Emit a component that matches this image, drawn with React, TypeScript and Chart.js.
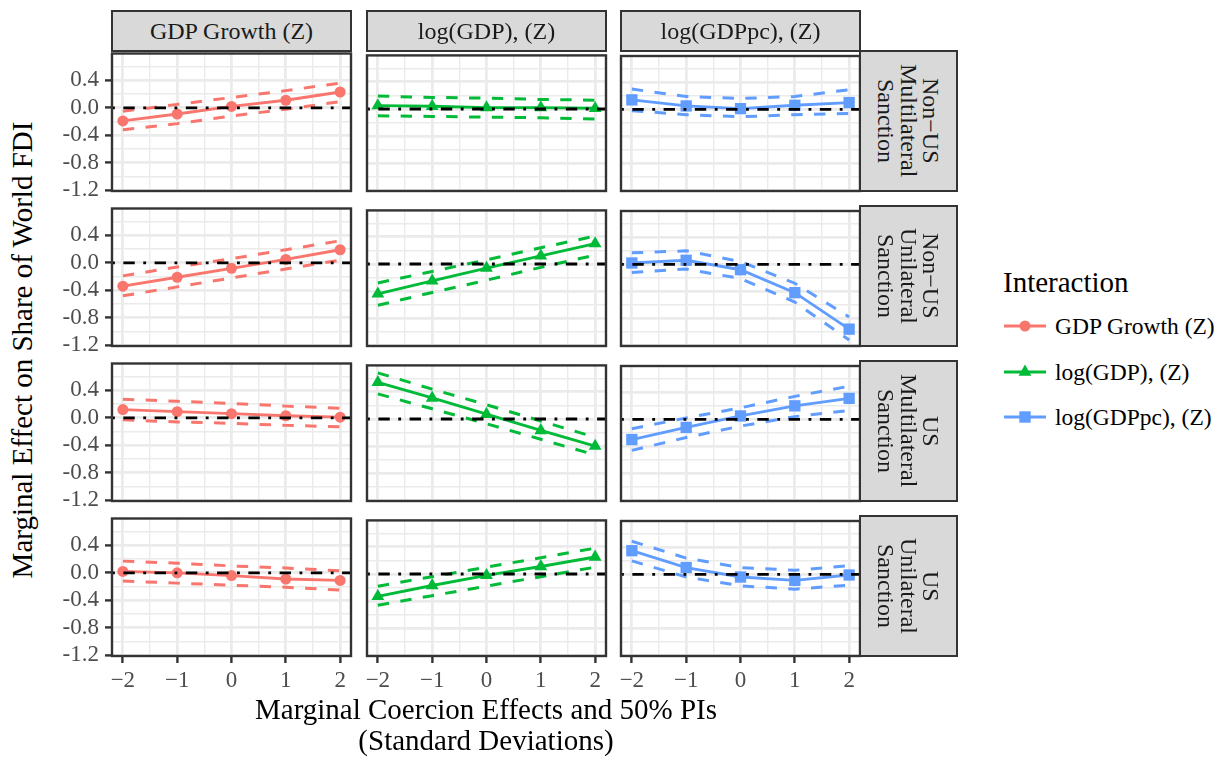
import React, { useEffect, useRef } from 'react';
import { Chart, registerables } from 'chart.js';

Chart.register(...registerables);

// ---------- data ----------
const X_VALUES = [-2, -1, 0, 1, 2];
const ZERO_LINE_X = [-2.2, 2.2];
const ZERO_LINE_Y = [0, 0];

const INTERACTIONS = ['GDP Growth (Z)', 'log(GDP), (Z)', 'log(GDPpc), (Z)'];
const SANCTIONS = [
  ['Non−US', 'Multilateral', 'Sanction'],
  ['Non−US', 'Unilateral', 'Sanction'],
  ['US', 'Multilateral', 'Sanction'],
  ['US', 'Unilateral', 'Sanction'],
];

// [GDP Growth, log(GDP), log(GDPpc)] for each sanction type
const EST_NONUS_MULTI = [
  [-0.19, -0.09, 0.02, 0.11, 0.23],
  [0.05, 0.04, 0.02, 0.02, 0.01],
  [0.14, 0.05, 0.01, 0.06, 0.10],
];
const LO_NONUS_MULTI = [
  [-0.32, -0.23, -0.12, -0.02, 0.09],
  [-0.10, -0.11, -0.12, -0.13, -0.15],
  [-0.02, -0.08, -0.11, -0.08, -0.06],
];
const HI_NONUS_MULTI = [
  [-0.05, 0.05, 0.15, 0.25, 0.36],
  [0.19, 0.17, 0.16, 0.14, 0.13],
  [0.30, 0.19, 0.16, 0.19, 0.29],
];

const EST_NONUS_UNI = [
  [-0.34, -0.21, -0.08, 0.05, 0.19],
  [-0.44, -0.25, -0.06, 0.12, 0.30],
  [0.02, 0.06, -0.08, -0.42, -0.96],
];
const LO_NONUS_UNI = [
  [-0.48, -0.35, -0.22, -0.09, 0.04],
  [-0.61, -0.42, -0.24, -0.05, 0.13],
  [-0.12, -0.07, -0.21, -0.56, -1.12],
];
const HI_NONUS_UNI = [
  [-0.19, -0.06, 0.06, 0.19, 0.32],
  [-0.28, -0.11, 0.06, 0.24, 0.41],
  [0.17, 0.20, 0.04, -0.28, -0.78],
];

const EST_US_MULTI = [
  [0.12, 0.09, 0.06, 0.03, 0.01],
  [0.54, 0.31, 0.07, -0.17, -0.40],
  [-0.30, -0.12, 0.05, 0.20, 0.31],
];
const LO_US_MULTI = [
  [-0.03, -0.06, -0.08, -0.11, -0.13],
  [0.37, 0.15, -0.07, -0.30, -0.53],
  [-0.46, -0.27, -0.10, 0.04, 0.13],
];
const HI_US_MULTI = [
  [0.27, 0.24, 0.21, 0.17, 0.14],
  [0.68, 0.44, 0.21, -0.03, -0.27],
  [-0.14, 0.02, 0.17, 0.34, 0.49],
];

const EST_US_UNI = [
  [0.02, 0.00, -0.04, -0.09, -0.11],
  [-0.33, -0.17, -0.02, 0.11, 0.25],
  [0.35, 0.10, -0.04, -0.09, -0.01],
];
const LO_US_UNI = [
  [-0.12, -0.15, -0.18, -0.21, -0.25],
  [-0.46, -0.32, -0.18, -0.04, 0.10],
  [0.20, -0.04, -0.17, -0.22, -0.16],
];
const HI_US_UNI = [
  [0.17, 0.14, 0.10, 0.07, 0.03],
  [-0.18, -0.04, 0.10, 0.24, 0.38],
  [0.49, 0.24, 0.10, 0.06, 0.13],
];

const EST = [EST_NONUS_MULTI, EST_NONUS_UNI, EST_US_MULTI, EST_US_UNI];
const LO = [LO_NONUS_MULTI, LO_NONUS_UNI, LO_US_MULTI, LO_US_UNI];
const HI = [HI_NONUS_MULTI, HI_NONUS_UNI, HI_US_MULTI, HI_US_UNI];

const X_MAJOR_TICKS = [-2, -1, 0, 1, 2];
const X_TICK_LABELS = ['−2', '−1', '0', '1', '2'];
const X_MINOR_TICKS = [-1.5, -0.5, 0.5, 1.5];
const Y_MAJOR_TICKS = [-1.2, -0.8, -0.4, 0, 0.4];
const Y_TICK_LABELS = ['-1.2', '-0.8', '-0.4', '0.0', '0.4'];
const Y_MINOR_TICKS = [-1.0, -0.6, -0.2, 0.2, 0.6];

// ---------- style ----------
const COLORS = ['#F8766D', '#00BA38', '#619CFF'];
const POINT_STYLES = ['circle', 'triangle', 'rect'];
const POINT_RADII = [5.5, 7.4, 8];
const FONT = '"Liberation Serif", "Times New Roman", serif';

const COL_LEFT = [112, 367, 621];
const ROW_TOP = [51, 206, 361, 516];
const PW = 239;
const PH = 140;
const ML = 60;
const MB = 40;
const PT = 3;
const PR = 10;

const panelBorder = {
  id: 'panelBorder',
  afterDraw(chart: any) {
    const { ctx, chartArea } = chart;
    ctx.save();
    ctx.strokeStyle = '#333333';
    ctx.lineWidth = 2.4;
    ctx.strokeRect(chartArea.left, chartArea.top, chartArea.right - chartArea.left, chartArea.bottom - chartArea.top);
    ctx.restore();
  },
};

function Panel({ row, col }: { row: number; col: number }) {
  const ref = useRef<HTMLCanvasElement>(null);
  useEffect(() => {
    const color = COLORS[col];
    const est = EST[row][col];
    const lo = LO[row][col];
    const hi = HI[row][col];
    const showY = col === 0;
    const showX = row === 3;
    const xTicks = [...X_MAJOR_TICKS, ...X_MINOR_TICKS].sort((a, b) => a - b);
    const yTicks = [...Y_MAJOR_TICKS, ...Y_MINOR_TICKS].sort((a, b) => a - b);
    const chart = new Chart(ref.current as HTMLCanvasElement, {
      type: 'line',
      data: {
        datasets: [
          {
            data: ZERO_LINE_X.map((x, i) => ({ x, y: ZERO_LINE_Y[i] })),
            borderColor: '#000000',
            borderWidth: 2.85,
            borderDash: [2.85, 8.5, 11.4, 8.5],
            pointRadius: 0,
          },
          {
            data: X_VALUES.map((x, i) => ({ x, y: est[i] })),
            borderColor: color,
            backgroundColor: color,
            borderWidth: 2.85,
            pointStyle: POINT_STYLES[col] as any,
            pointRadius: POINT_RADII[col],
            pointBorderWidth: 0,
            pointBackgroundColor: color,
          },
          {
            data: X_VALUES.map((x, i) => ({ x, y: lo[i] })),
            borderColor: color,
            borderWidth: 3,
            borderDash: [11.4, 11.4],
            pointRadius: 0,
          },
          {
            data: X_VALUES.map((x, i) => ({ x, y: hi[i] })),
            borderColor: color,
            borderWidth: 3,
            borderDash: [11.4, 11.4],
            pointRadius: 0,
          },
        ],
      },
      options: {
        animation: false,
        responsive: false,
        maintainAspectRatio: false,
        devicePixelRatio: 1,
        events: [],
        layout: { padding: { top: PT, right: PR, left: 0, bottom: 0 } },
        plugins: { legend: { display: false }, tooltip: { enabled: false } },
        scales: {
          x: {
            type: 'linear',
            min: -2.2,
            max: 2.2,
            bounds: 'data',
            afterBuildTicks: (s: any) => {
              s.ticks = xTicks.map((v) => ({ value: v }));
            },
            afterFit: (s: any) => {
              s.height = MB;
              s.paddingLeft = 0;
              s.paddingRight = 0;
            },
            border: { display: false },
            grid: {
              color: '#EBEBEB',
              lineWidth: (c: any) => (X_MAJOR_TICKS.includes(c.tick?.value) ? 2.8 : 1.4),
              drawTicks: showX,
              tickLength: 7,
              tickWidth: 2.4,
              tickColor: (c: any) => (X_MAJOR_TICKS.includes(c.tick?.value) ? '#333333' : 'rgba(0,0,0,0)'),
            },
            ticks: {
              display: showX,
              autoSkip: false,
              maxRotation: 0,
              padding: 4,
              color: '#4D4D4D',
              font: { family: FONT, size: 23 },
              callback: (v: any) => {
                const i = X_MAJOR_TICKS.indexOf(v);
                return i >= 0 ? X_TICK_LABELS[i] : '';
              },
            },
          },
          y: {
            type: 'linear',
            min: -1.21,
            max: 0.79,
            bounds: 'data',
            afterBuildTicks: (s: any) => {
              s.ticks = yTicks.map((v) => ({ value: v }));
            },
            afterFit: (s: any) => {
              s.width = ML;
              s.paddingTop = 0;
              s.paddingBottom = 0;
            },
            border: { display: false },
            grid: {
              color: '#EBEBEB',
              lineWidth: (c: any) => (Y_MAJOR_TICKS.includes(c.tick?.value) ? 2.8 : 1.4),
              drawTicks: showY,
              tickLength: 7,
              tickWidth: 2.4,
              tickColor: (c: any) => (Y_MAJOR_TICKS.includes(c.tick?.value) ? '#333333' : 'rgba(0,0,0,0)'),
            },
            ticks: {
              display: showY,
              autoSkip: false,
              padding: 6,
              color: '#4D4D4D',
              font: { family: FONT, size: 23 },
              callback: (v: any) => {
                const i = Y_MAJOR_TICKS.indexOf(v);
                return i >= 0 ? Y_TICK_LABELS[i] : '';
              },
            },
          },
        },
      } as any,
      plugins: [panelBorder],
    });
    return () => chart.destroy();
  }, [row, col]);
  const w = ML + PW + PR;
  const h = PT + PH + MB;
  return (
    <canvas
      ref={ref}
      width={w}
      height={h}
      style={{ position: 'absolute', left: COL_LEFT[col] - ML, top: ROW_TOP[row] - PT, width: w, height: h }}
    />
  );
}

function LegendKey({ idx, cy }: { idx: number; cy: number }) {
  const c = COLORS[idx];
  const cx = 25;
  const y = 23;
  let marker: any = null;
  if (idx === 0) marker = <circle cx={cx} cy={y} r={5.5} fill={c} />;
  if (idx === 1) {
    const r = 7.4;
    const pts = `${cx},${y - r} ${cx + r * 0.866},${y + r / 2} ${cx - r * 0.866},${y + r / 2}`;
    marker = <polygon points={pts} fill={c} />;
  }
  if (idx === 2) marker = <rect x={cx - 5.7} y={y - 5.7} width={11.4} height={11.4} fill={c} />;
  return (
    <svg width={50} height={46} style={{ position: 'absolute', left: 1000, top: cy - 23 }}>
      <line x1={4} y1={y} x2={46} y2={y} stroke={c} strokeWidth={2.85} />
      {marker}
    </svg>
  );
}

export default function App() {
  const panels: any[] = [];
  for (let r = 0; r < 4; r++) for (let c = 0; c < 3; c++) panels.push(<Panel key={`${r}-${c}`} row={r} col={c} />);
  const legendY = [326, 371.5, 417];
  return (
    <div
      style={{
        position: 'absolute',
        left: 0,
        top: 0,
        width: 1225,
        height: 757,
        background: '#ffffff',
        overflow: 'hidden',
        fontFamily: FONT,
      }}
    >
      {panels}
      {INTERACTIONS.map((t, c) => (
        <div
          key={t}
          style={{
            position: 'absolute',
            left: COL_LEFT[c] - 1.2,
            top: 10,
            width: PW + 2.4,
            height: 42,
            boxSizing: 'border-box',
            background: '#D9D9D9',
            border: '2.4px solid #333333',
            display: 'flex',
            alignItems: 'center',
            justifyContent: 'center',
            fontSize: 24,
            color: '#1A1A1A',
            whiteSpace: 'nowrap',
          }}
        >
          {t}
        </div>
      ))}
      {SANCTIONS.map((lines, r) => (
        <div
          key={r}
          style={{
            position: 'absolute',
            left: COL_LEFT[2] + PW - 1.2,
            top: ROW_TOP[r] - 1.2,
            width: 99,
            height: PH + 2.4,
            boxSizing: 'border-box',
            background: '#D9D9D9',
            border: '2.4px solid #333333',
            display: 'flex',
            alignItems: 'center',
            justifyContent: 'center',
            fontSize: 24,
            color: '#1A1A1A',
          }}
        >
          <div style={{ writingMode: 'vertical-rl', lineHeight: '22.5px', textAlign: 'center', whiteSpace: 'nowrap' }}>
            {lines.map((l, i) => (
              <div key={i}>{l}</div>
            ))}
          </div>
        </div>
      ))}
      <div
        style={{
          position: 'absolute',
          left: 22,
          top: 350,
          transform: 'translate(-50%, -50%) rotate(-90deg)',
          fontSize: 29,
          color: '#000000',
          whiteSpace: 'nowrap',
        }}
      >
        Marginal Effect on Share of World FDI
      </div>
      <div
        style={{
          position: 'absolute',
          left: 486,
          top: 725,
          transform: 'translate(-50%, -50%)',
          fontSize: 29,
          lineHeight: '31px',
          color: '#000000',
          textAlign: 'center',
          whiteSpace: 'nowrap',
        }}
      >
        <div>Marginal Coercion Effects and 50% PIs</div>
        <div>(Standard Deviations)</div>
      </div>
      <div style={{ position: 'absolute', left: 1003, top: 282, transform: 'translateY(-50%)', fontSize: 29, whiteSpace: 'nowrap' }}>
        Interaction
      </div>
      {INTERACTIONS.map((t, i) => (
        <React.Fragment key={t}>
          <LegendKey idx={i} cy={legendY[i]} />
          <div
            style={{
              position: 'absolute',
              left: 1055,
              top: legendY[i],
              transform: 'translateY(-50%)',
              fontSize: 23.5,
              color: '#000000',
              whiteSpace: 'nowrap',
            }}
          >
            {t}
          </div>
        </React.Fragment>
      ))}
    </div>
  );
}
